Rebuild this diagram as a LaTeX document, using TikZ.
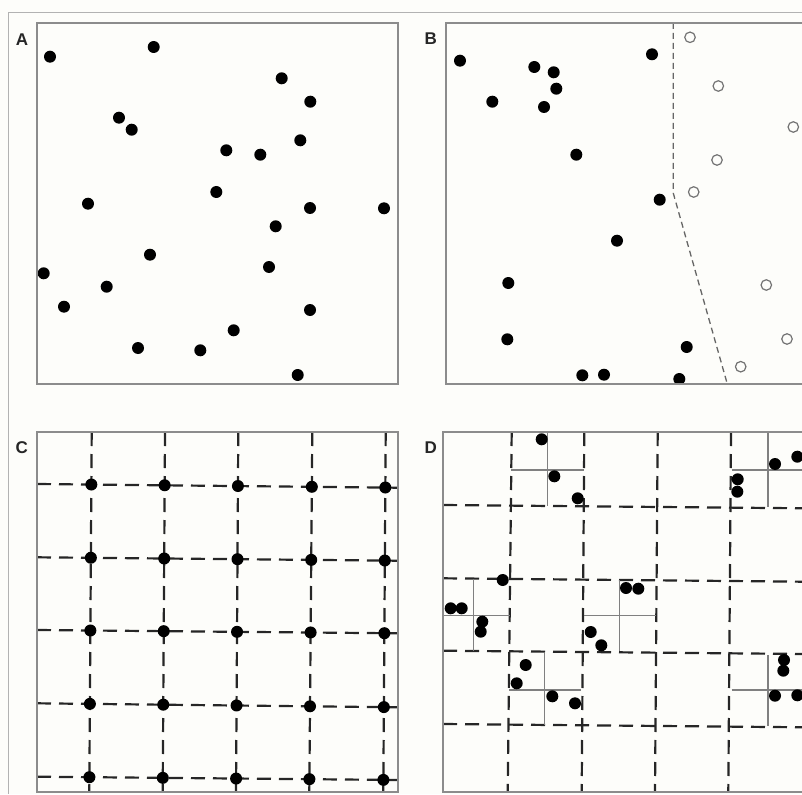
\documentclass[tikz,border=0pt]{standalone}
\usepackage{fontspec}
\setmainfont{Liberation Sans}
\definecolor{bg}{RGB}{253,253,250}
\begin{document}
\begin{tikzpicture}[x=1pt,y=-1pt,
 dot/.style={circle,fill=black,draw=none,inner sep=0pt,minimum size=12pt},
 odot/.style={circle,draw=black!55,line width=1.2pt,fill=none,inner sep=0pt,minimum size=10.5pt},
 panel/.style={draw=black!45,line width=1.6pt},
 outerframe/.style={draw=black!30,line width=1pt},
 gridline/.style={draw=black!85,line width=2.2pt,dash pattern=on 14pt off 8pt},
 quad/.style={draw=black!50,line width=1.2pt},
 split/.style={draw=black!60,line width=1.3pt,dash pattern=on 6pt off 4pt},
 lab/.style={font=\fontsize{17}{17}\selectfont\bfseries,inner sep=0pt,text=black!85}]
\useasboundingbox (0,0) rectangle (802,794);
\clip (0,0) rectangle (802,794);
\fill[bg] (0,0) rectangle (802,794);
\draw[outerframe] (8,794) -- (8,12.5) -- (802,12.5);

% ---------- Panel A ----------
\node[lab] (labA) at (22,40) {A};
\foreach \x/\y [count=\i] in {50/56.7,153.7/47,281.7/78.3,310.3/101.7,119/117.7,131.7/129.7,
  300.3/140.3,226.3/150.3,260.3/154.7,216.3/192,88/203.7,310/208,384/208.3,275.7/226.3,
  150/254.7,269/267,43.7/273.3,106.7/286.7,64/306.7,310/310,233.7/330.3,138/348,200.3/350.3,297.7/375}
  \node[dot] (a\i) at (\x,\y) {};
\draw[panel] (37,23) rectangle (398,384);

% ---------- Panel B ----------
\node[lab] (labB) at (430.7,39) {B};
\coordinate (btop) at (673.3,23);
\coordinate (bbend) at (673.3,193.3);
\coordinate (bbot) at (727.3,384);
\draw[split] (btop) -- (bbend) -- (bbot);
\foreach \x/\y [count=\i] in {460/60.7,534.3/67,553.7/72.3,556.3/88.7,492.3/101.7,544/107,
  652/54.3,576.3/154.7,659.7/199.7,617/240.7,508.3/283,507.3/339.3,686.7/347,582.3/375.3,
  604/374.7,679.3/379}
  \node[dot] (b\i) at (\x,\y) {};
\foreach \x/\y [count=\i] in {690/37.3,718.3/86,793.3/127,717/160,693.7/192,766.3/285,787/339,740.7/366.7}
  \node[odot] (o\i) at (\x,\y) {};
\draw[panel] (446,23) rectangle (807,384);

% ---------- Panel C ----------
\node[lab] (labC) at (21.7,447.7) {C};
\foreach \t/\b [count=\i] in {91.7/89.3,165/162.7,238.3/236,312.3/309.3,385.7/383.3} {
  \coordinate (cvt\i) at (\t,432);
  \coordinate (cvb\i) at (\b,792);
  \draw[gridline] (cvt\i) -- (cvb\i);
}
\foreach \l/\r [count=\i] in {484/487.7,557.3/560.7,630/633.3,703.3/707.3,776.7/780} {
  \coordinate (chl\i) at (37,\l);
  \coordinate (chr\i) at (398,\r);
  \draw[gridline] (chl\i) -- (chr\i);
}
\foreach \r in {1,...,5} {
  \foreach \c in {1,...,5} {
    \edef\mkdot{\noexpand\node[dot] (c\r-\c) at (intersection of cvt\c--cvb\c\space and chl\r--chr\r) {};}
    \mkdot
  }
}
\draw[panel] (37,432) rectangle (398,792);

% ---------- Panel D ----------
\node[lab] (labD) at (430.7,447.3) {D};
\foreach \t/\b [count=\i] in {511.7/507.7,584.3/581.7,657.7/655,731/728.3} {
  \coordinate (dvt\i) at (\t,432);
  \coordinate (dvb\i) at (\b,792);
  \draw[gridline] (dvt\i) -- (dvb\i);
}
\foreach \l/\r [count=\i] in {505/508.3,578.3/581.7,650.7/654,724/727.3} {
  \coordinate (dhl\i) at (443,\l);
  \coordinate (dhr\i) at (804,\r);
  \draw[gridline] (dhl\i) -- (dhr\i);
}
% sub-divided cells
\draw[quad] (547.7,432) -- (547.7,505.5);
\draw[quad] (511.3,470) -- (584,470);
\draw[quad] (768,432) -- (768,506.5);
\draw[quad] (731.5,470) -- (804,470);
\draw[quad] (473.7,579.3) -- (473.7,650.7);
\draw[quad] (443,615.7) -- (509.5,615.7);
\draw[quad] (619.3,580) -- (619.3,651);
\draw[quad] (584.3,615.7) -- (656,615.7);
\draw[quad] (544.3,653.3) -- (544.3,724.5);
\draw[quad] (509.3,690) -- (581,690);
\draw[quad] (768,655) -- (768,725.5);
\draw[quad] (731.7,690) -- (804,690);
\foreach \x/\y [count=\i] in {541.7/439.3,554.3/476.3,577.7/498.3,
  775/464,797.3/456.7,737.7/479.3,737.3/491.7,
  450.7/608.3,461.7/608.3,482.3/621.7,480.7/631.7,502.7/580,
  626/588,638.3/588.7,590.7/632,601.3/645.3,
  525.7/665,516.7/683.3,552.3/696.3,575/703.3,
  784/660,783.3/670.7,775/695.7,797.3/695.3}
  \node[dot] (d\i) at (\x,\y) {};
\draw[panel] (443,432) rectangle (804,792);
\end{tikzpicture}
\end{document}
